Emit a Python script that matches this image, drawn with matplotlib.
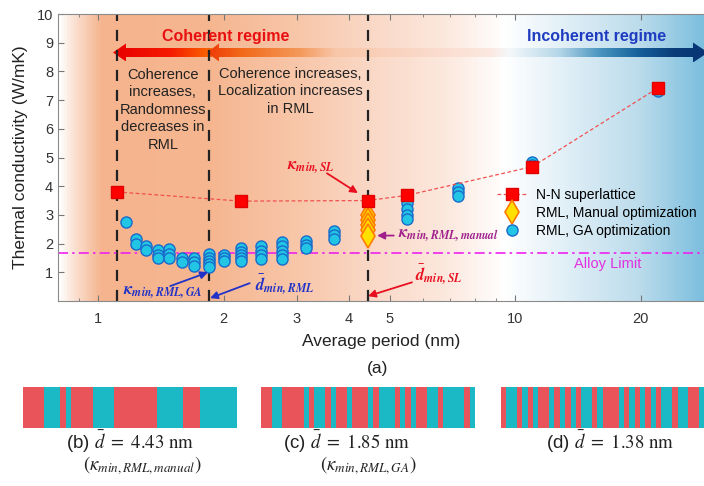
import matplotlib.pyplot as plt
import numpy as np
from matplotlib.colors import LinearSegmentedColormap, ListedColormap
from matplotlib.patches import Polygon

plt.rcParams['font.family'] = ['Liberation Sans', 'DejaVu Sans']
plt.rcParams['mathtext.fontset'] = 'stix'

# N-N superlattice
sl_period = [1.11, 2.2, 4.43, 5.5, 11.0, 22.0]
sl_kappa = [3.8, 3.48, 3.5, 3.68, 4.68, 7.42]

# RML, manual optimization
man_period = 4.43
man_kappa = [3.0, 2.82, 2.64, 2.46, 2.28]

# RML, GA optimization (one column of results per average period)
ga_period = [1.17, 1.23, 1.30, 1.39, 1.48, 1.59, 1.70, 1.85, 2.0, 2.2,
             2.46, 2.76, 3.15, 3.68, 5.5, 7.3, 11.0, 22.0]
ga_kappa = [[2.76], [2.15, 2.0], [1.9, 1.78], [1.78, 1.62, 1.5],
            [1.8, 1.65, 1.5], [1.5, 1.35], [1.5, 1.35, 1.22],
            [1.65, 1.5, 1.4, 1.3, 1.2], [1.6, 1.5, 1.38],
            [1.85, 1.72, 1.6, 1.5, 1.4], [1.9, 1.75, 1.6, 1.45],
            [2.05, 1.9, 1.75, 1.6, 1.45], [2.08, 1.95, 1.85],
            [2.45, 2.3, 2.15], [3.4, 3.2, 3.0, 2.85], [3.95, 3.8, 3.65],
            [4.85, 4.75], [7.3]]

alloy_limit = 1.68
regime_lines = [1.11, 1.85, 4.43]

xticks = [1, 2, 3, 4, 5, 10, 20]
xticks_minor = [0.9, 6, 7, 8, 9]
yticks = [1, 2, 3, 4, 5, 6, 7, 8, 9, 10]

# layer thicknesses (in monolayers) of the three RML samples, red/cyan alternating
layers_b = [4, 3, 1, 1, 4, 4, 8, 5, 3, 7]
layers_c = [2, 2, 4, 1, 1, 2, 1, 1, 2, 1, 3, 1, 1, 3, 1, 1, 1, 1, 2, 2, 1, 4, 1, 1]
layers_d = [1, 2, 1, 1, 1, 1, 2, 1, 1, 1, 1, 1, 1, 2, 1, 1, 3, 1, 1, 1,
            1, 1, 1, 1, 1, 2, 1, 2, 2, 1, 1, 1]

W, H = 704, 486


def box(x0, y0, x1, y1):
    # pixel box -> figure fraction
    return [x0 / W, 1 - y1 / H, (x1 - x0) / W, (y1 - y0) / H]


def px_cmap(stops, x0, x1):
    return LinearSegmentedColormap.from_list(
        'c', [((p - x0) / (x1 - x0), c) for p, c in stops])


def grad_arrow(a, verts, stops):
    xs = [v[0] for v in verts]
    ys = [v[1] for v in verts]
    poly = Polygon(verts, closed=True, facecolor='none', edgecolor='none')
    a.add_patch(poly)
    cm = px_cmap(stops, min(xs), max(xs))
    im = a.imshow(np.linspace(0, 1, 512)[None, :], cmap=cm, aspect='auto',
                  extent=[min(xs), max(xs), max(ys), min(ys)], zorder=2)
    im.set_clip_path(poly)


fig = plt.figure(figsize=(7.04, 4.86), dpi=100)

# background shading and regime arrows (pixel coordinates)
bg = fig.add_axes(box(58, 14, 704, 301))
bg.set_xlim(58, 704)
bg.set_ylim(301, 14)
bg.axis('off')
bg_stops = [(58, '#ffffff'), (72, '#fbe2d4'), (100, '#f5b48e'), (210, '#f5b690'),
            (300, '#f8c7aa'), (370, '#fad8c6'), (450, '#fce9df'), (505, '#ffffff'),
            (560, '#e4f1f8'), (640, '#bcdcec'), (704, '#7dbfde')]
bg.imshow(np.linspace(0, 1, 700)[None, :], cmap=px_cmap(bg_stops, 58, 704),
          extent=[58, 704, 301, 14], aspect='auto', zorder=0)

yc = 52.5
grad_arrow(bg, [(113, yc), (126, yc - 9), (126, yc - 4.5), (212, yc - 4.5),
                (212, yc + 4.5), (126, yc + 4.5), (126, yc + 9)],
           [(113, '#e80000'), (170, '#f51a00'), (212, '#fb6a00')])
grad_arrow(bg, [(207, yc), (219, yc - 9), (219, yc - 4.5), (693, yc - 4.5),
                (693, yc - 10), (708, yc), (693, yc + 10), (693, yc + 4.5),
                (219, yc + 4.5), (219, yc + 9)],
           [(207, '#ee3a08'), (240, '#f26818'), (300, '#f49a5c'), (335, '#f8c6a8'),
            (420, '#fad8c8'), (490, '#fce8e0'), (510, '#f4f8fb'), (560, '#b4d6e8'),
            (600, '#4a96c0'), (640, '#15609a'), (675, '#0a3c7a'), (708, '#083474')])

# main plot
ax = fig.add_axes(box(58, 14, 704, 301))
ax.set_facecolor('none')
ax.set_xscale('log')

for x in regime_lines:
    ax.axvline(x, color='#222222', ls=(0, (5, 4)), lw=1.6, zorder=1)
ax.axhline(alloy_limit, color='#ee22ee', ls=(0, (6, 2.5, 1.5, 2.5)), lw=1.2, zorder=1)

for i, (x, ys) in enumerate(zip(ga_period, ga_kappa)):
    ax.plot([x] * len(ys), ys, 'o', ms=8, mfc='#22c6e4', mec='#1a6acb', mew=1.0,
            ls='none', zorder=3, label='RML, GA optimization' if i == 0 else None)
ax.plot([man_period] * len(man_kappa), man_kappa, 'd', ms=12, mfc='#ffe000',
        mec='#ff7a00', mew=1.2, ls='none', zorder=4, label='RML, Manual optimization')
ax.plot(sl_period, sl_kappa, ls=(0, (3, 2)), lw=0.9, color='#f05050', marker='s',
        ms=9, mfc='#ff0000', mec='#e00000', zorder=5, label='N-N superlattice')

ax.set_xlim(0.8016, 28.39)
ax.set_ylim(0, 10)
ax.set_xticks(xticks)
ax.set_xticklabels([str(t) for t in xticks])
ax.set_xticks(xticks_minor, minor=True)
ax.xaxis.set_minor_formatter(plt.NullFormatter())
ax.set_yticks(yticks)
ax.tick_params(axis='both', which='both', direction='in', colors='#777777',
               labelcolor='#333333', labelsize=10.5, top=True, right=False)
ax.tick_params(axis='x', which='major', pad=8)
ax.tick_params(which='major', length=4)
ax.tick_params(which='minor', length=2.5)
ax.spines['right'].set_visible(False)
for s in ['left', 'top', 'bottom']:
    ax.spines[s].set_color('#8a8a8a')
ax.set_xlabel('Average period (nm)', fontsize=12.5, color='#222222', labelpad=6)
ax.set_ylabel('Thermal conductivity (W/mK)', fontsize=12.5, color='#222222', labelpad=6)

# regime labels
ax.text(2.02, 9.2, 'Coherent regime', color='#e81010', fontsize=11.5,
        fontweight='bold', ha='center', va='center')
ax.text(15.7, 9.2, 'Incoherent regime', color='#1f3cc0', fontsize=11.5,
        fontweight='bold', ha='center', va='center')
ax.text(1.43, 6.66, 'Coherence\nincreases,\nRandomness\ndecreases in\nRML',
        ha='center', va='center', fontsize=10.5, color='#222222', linespacing=1.32)
ax.text(2.89, 7.31, 'Coherence increases,\nLocalization increases\nin RML',
        ha='center', va='center', fontsize=10.5, color='#222222', linespacing=1.32)
ax.text(16.7, 1.28, 'Alloy Limit', color='#e030e0', fontsize=10.5,
        ha='center', va='center')

# annotations
red, purple, blue = '#e81020', '#a0208c', '#2032c8'
arw = dict(arrowstyle='-|>', lw=1.3, mutation_scale=11, shrinkA=0, shrinkB=0)
ax.text(3.24, 4.66, r'$\mathbfit{\kappa}_{\mathbfit{min,SL}}$', color=red,
        fontsize=12, ha='center', va='center')
ax.annotate('', xy=(4.2, 3.76), xytext=(3.54, 4.45), arrowprops=dict(arw, color=red))
ax.text(5.24, 2.28, r'$\mathbfit{\kappa}_{\mathbfit{min,RML,manual}}$', color=purple,
        fontsize=12, ha='left', va='center')
ax.annotate('', xy=(4.67, 2.28), xytext=(5.12, 2.28), arrowprops=dict(arw, color=purple))
ax.text(5.76, 0.95, r'$\bar{\mathbfit{d}}_{\mathbfit{min,SL}}$', color=red,
        fontsize=12, ha='left', va='center')
ax.annotate('', xy=(4.44, 0.17), xytext=(5.66, 0.65), arrowprops=dict(arw, color=red))
ax.text(1.43, 0.31, r'$\mathbfit{\kappa}_{\mathbfit{min,RML,GA}}$', color=blue,
        fontsize=12, ha='center', va='center')
ax.annotate('', xy=(1.835, 1.0), xytext=(1.49, 0.52), arrowprops=dict(arw, color=blue))
ax.text(2.38, 0.6, r'$\bar{\mathbfit{d}}_{\mathbfit{min,RML}}$', color=blue,
        fontsize=12, ha='left', va='center')
ax.annotate('', xy=(1.856, 0.1), xytext=(2.31, 0.62), arrowprops=dict(arw, color=blue))

handles, labels = ax.get_legend_handles_labels()
order = [labels.index('N-N superlattice'), labels.index('RML, Manual optimization'),
         labels.index('RML, GA optimization')]
ax.legend([handles[i] for i in order], [labels[i] for i in order], loc='upper left',
          bbox_to_anchor=((497 - 58) / 646, (301 - 188) / 287), frameon=False,
          fontsize=10, handlelength=2.2, handletextpad=0.6, labelspacing=0.3,
          borderaxespad=0, borderpad=0, numpoints=1)

fig.text(378 / W, 1 - 368 / H, '(a)', ha='center', va='center', fontsize=12.5,
         color='#222222')

# layer structures
stripe_cmap = ListedColormap(['#e8545a', '#1bb8c6'])


def stripes(rect, layers):
    a = fig.add_axes(box(*rect))
    seq = np.concatenate([np.full(n, i % 2) for i, n in enumerate(layers)])
    a.imshow(seq[None, :], cmap=stripe_cmap, aspect='auto', interpolation='nearest',
             vmin=0, vmax=1)
    a.axis('off')


stripes((23, 387, 237, 428), layers_b)
stripes((261, 387, 475, 428), layers_c)
stripes((501, 387, 715, 428), layers_d)

cap = dict(ha='center', va='center', fontsize=13.5, color='#222222')
fig.text(130 / W, 1 - 442 / H, r'(b) $\bar{d}\ =\ 4.43\ \mathrm{nm}$', **cap)
fig.text(142 / W, 1 - 466 / H, r'$(\kappa_{min,RML,manual})$', **cap)
fig.text(346 / W, 1 - 442 / H, r'(c) $\bar{d}\ =\ 1.85\ \mathrm{nm}$', **cap)
fig.text(368 / W, 1 - 466 / H, r'$(\kappa_{min,RML,GA})$', **cap)
fig.text(610 / W, 1 - 442 / H, r'(d) $\bar{d}\ =\ 1.38\ \mathrm{nm}$', **cap)

plt.savefig('out.png', dpi=100)
